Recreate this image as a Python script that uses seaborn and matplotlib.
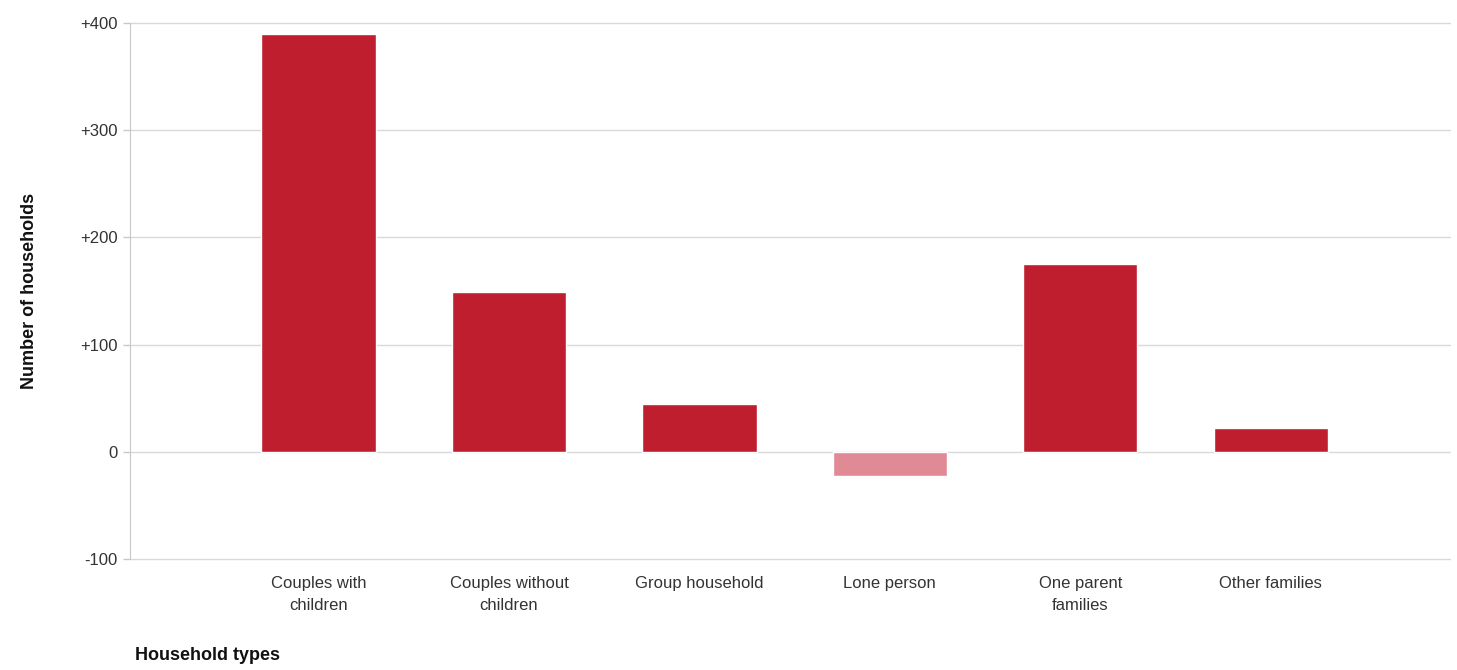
import pandas as pd
import numpy as np
import matplotlib
matplotlib.use('Agg')
import matplotlib.pyplot as plt
import seaborn as sns

# data
household_types = ['Couples with\nchildren', 'Couples without\nchildren', 'Group household',
                   'Lone person', 'One parent\nfamilies', 'Other families']
change = [390, 149, 45, -23, 175, 22]
y_ticks = [-100, 0, 100, 200, 300, 400]
y_tick_labels = ['-100', '0', '+100', '+200', '+300', '+400']

df = pd.DataFrame({'type': household_types, 'change': change})
df['sign'] = np.where(df['change'] >= 0, 'up', 'down')

sns.set_style('white')
plt.rcParams['font.family'] = ['Liberation Sans', 'DejaVu Sans']

fig = plt.figure(figsize=(14.57, 6.7), dpi=100)
ax = fig.add_axes([0.0892, 0.1657, 0.9058, 0.8])

sns.barplot(data=df, x='type', y='change', hue='sign',
            palette={'up': '#BE1E2D', 'down': '#E08A96'},
            dodge=False, width=0.6, legend=False, ax=ax, saturation=1)

ax.set_xlim(-0.99, 5.94)
ax.set_ylim(-100, 400)
ax.set_yticks(y_ticks)
ax.set_yticklabels(y_tick_labels, fontsize=12, color='#333333')
ax.set_xticks(range(len(household_types)))
ax.set_xticklabels(household_types, fontsize=12, color='#333333', linespacing=1.6)
ax.tick_params(axis='x', length=0, pad=12)
ax.tick_params(axis='y', length=5, color='#c8c8c8', width=1, pad=4, left=True)

ax.grid(axis='y', color='#d9d9d9', linewidth=1)
for line in ax.get_ygridlines():
    line.set_clip_on(False)
ax.set_axisbelow(True)
for side in ['top', 'right', 'bottom']:
    ax.spines[side].set_visible(False)
ax.spines['left'].set_color('#c8c8c8')

ax.set_xlabel('')
ax.set_ylabel('Number of households', fontsize=13, fontweight='bold', labelpad=30, color='#111111')
fig.text(0.0927, 0.015, 'Household types', fontsize=13, fontweight='bold', color='#111111')

fig.savefig('out.png', dpi=100, facecolor='white')
